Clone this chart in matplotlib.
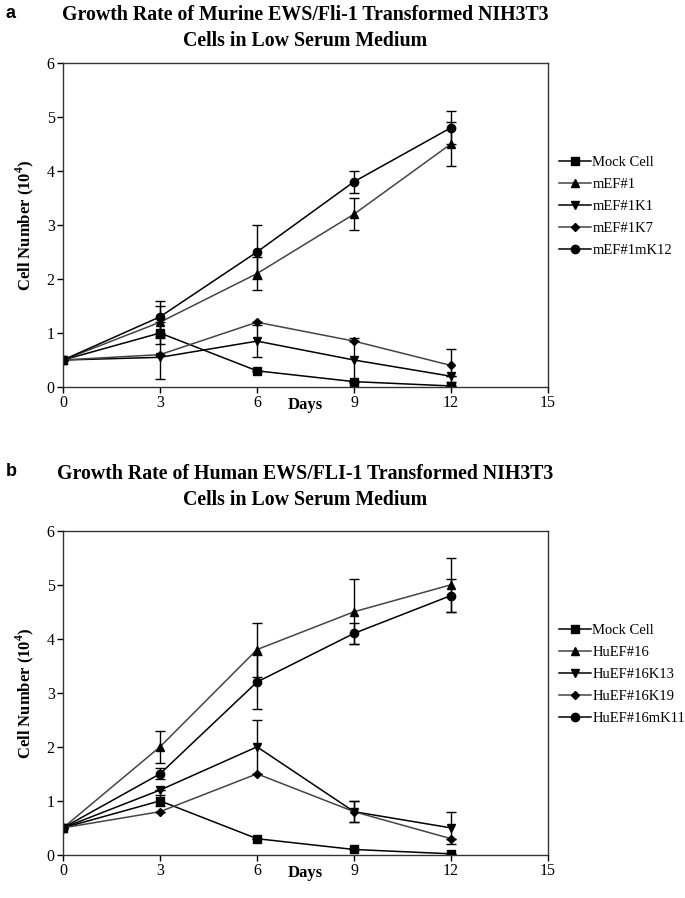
import matplotlib.pyplot as plt
import numpy as np

plt.rcParams['font.family'] = ['Liberation Serif', 'DejaVu Serif']
plt.rcParams['mathtext.fontset'] = 'custom'
plt.rcParams['mathtext.rm'] = 'Liberation Serif'
plt.rcParams['mathtext.bf'] = 'Liberation Serif:bold'

days = [0, 3, 6, 9, 12]

# panel a - murine
names_a = ['Mock Cell', 'mEF#1', 'mEF#1K1', 'mEF#1K7', 'mEF#1mK12']
mock_a = [0.5, 1.0, 0.3, 0.1, 0.02]
mef1 = [0.5, 1.2, 2.1, 3.2, 4.5]
mef1k1 = [0.5, 0.55, 0.85, 0.5, 0.2]
mef1k7 = [0.5, 0.6, 1.2, 0.85, 0.4]
mef1mk12 = [0.5, 1.3, 2.5, 3.8, 4.8]
err_mock_a = [0, 0.2, 0, 0, 0]
err_mef1 = [0, 0.3, 0.3, 0.3, 0.4]
err_mef1k1 = [0, 0.4, 0.3, 0.4, 0]
err_mef1k7 = [0, 0, 0, 0, 0.3]
err_mef1mk12 = [0, 0.3, 0.5, 0.2, 0.3]

# panel b - human
names_b = ['Mock Cell', 'HuEF#16', 'HuEF#16K13', 'HuEF#16K19', 'HuEF#16mK11']
mock_b = [0.5, 1.0, 0.3, 0.1, 0.02]
huef16 = [0.5, 2.0, 3.8, 4.5, 5.0]
huef16k13 = [0.5, 1.2, 2.0, 0.8, 0.5]
huef16k19 = [0.5, 0.8, 1.5, 0.8, 0.3]
huef16mk11 = [0.5, 1.5, 3.2, 4.1, 4.8]
err_mock_b = [0, 0.1, 0, 0, 0]
err_huef16 = [0, 0.3, 0.5, 0.6, 0.5]
err_huef16k13 = [0, 0, 0.5, 0.2, 0.3]
err_huef16k19 = [0, 0, 0, 0.2, 0]
err_huef16mk11 = [0, 0.1, 0.5, 0.2, 0.3]

markers = ['s', '^', 'v', 'D', 'o']
msizes = [5.5, 6, 5.5, 3.8, 6]
lcolors = ['black', '#444444', 'black', '#444444', 'black']

fig = plt.figure(figsize=(6.85, 8.98), dpi=100)


def panel(ax, series, errs, names, lcols):
    for i in range(len(series)):
        ax.errorbar(days, series[i], yerr=errs[i], color=lcols[i], ecolor='black',
                    marker=markers[i], markersize=msizes[i], markerfacecolor='black',
                    markeredgecolor='black', linewidth=1.1, elinewidth=1.0,
                    capsize=3.5, capthick=1.0, label=names[i])
    ax.set_xlim(0, 15)
    ax.set_ylim(0, 6)
    ax.set_xticks([0, 3, 6, 9, 12, 15])
    ax.set_yticks([0, 1, 2, 3, 4, 5, 6])
    ax.tick_params(direction='out', length=4, width=1, labelsize=11.5,
                   top=False, right=False, pad=2)
    for s in ax.spines.values():
        s.set_linewidth(1.0)
        s.set_color('#333333')
    ax.set_xlabel('Days', fontsize=12, fontweight='bold', labelpad=-10)
    ax.set_ylabel(r'Cell Number (10$^\mathbf{4}$)', fontsize=12, fontweight='bold', labelpad=8)
    h, l = ax.get_legend_handles_labels()
    h = [x[0] for x in h]
    ax.legend(h, l, loc='center left', bbox_to_anchor=(1.01, 0.556), frameon=False,
              fontsize=10.5, handlelength=2.2, handletextpad=0.1, labelspacing=0.6,
              borderaxespad=0)


ax1 = fig.add_axes([0.092, 0.569, 0.708, 0.361])
panel(ax1, [mock_a, mef1, mef1k1, mef1k7, mef1mk12],
      [err_mock_a, err_mef1, err_mef1k1, err_mef1k7, err_mef1mk12], names_a, lcolors)

ax2 = fig.add_axes([0.092, 0.048, 0.708, 0.361])
panel(ax2, [mock_b, huef16, huef16k13, huef16k19, huef16mk11],
      [err_mock_b, err_huef16, err_huef16k13, err_huef16k19, err_huef16mk11], names_b, lcolors)

fig.text(0.446, 1 - 15 / 898, 'Growth Rate of Murine EWS/Fli-1 Transformed NIH3T3',
         ha='center', va='center', fontsize=14.3, fontweight='bold')
fig.text(0.446, 1 - 41 / 898, 'Cells in Low Serum Medium',
         ha='center', va='center', fontsize=14.3, fontweight='bold')
fig.text(0.446, 1 - 474 / 898, 'Growth Rate of Human EWS/FLI-1 Transformed NIH3T3',
         ha='center', va='center', fontsize=14.3, fontweight='bold')
fig.text(0.446, 1 - 500 / 898, 'Cells in Low Serum Medium',
         ha='center', va='center', fontsize=14.3, fontweight='bold')
fig.text(0.008, 1 - 13 / 898, 'a', ha='left', va='center', fontsize=13,
         fontweight='bold', family='Liberation Sans')
fig.text(0.008, 1 - 472 / 898, 'b', ha='left', va='center', fontsize=13,
         fontweight='bold', family='Liberation Sans')

fig.savefig('out.png', dpi=100)
